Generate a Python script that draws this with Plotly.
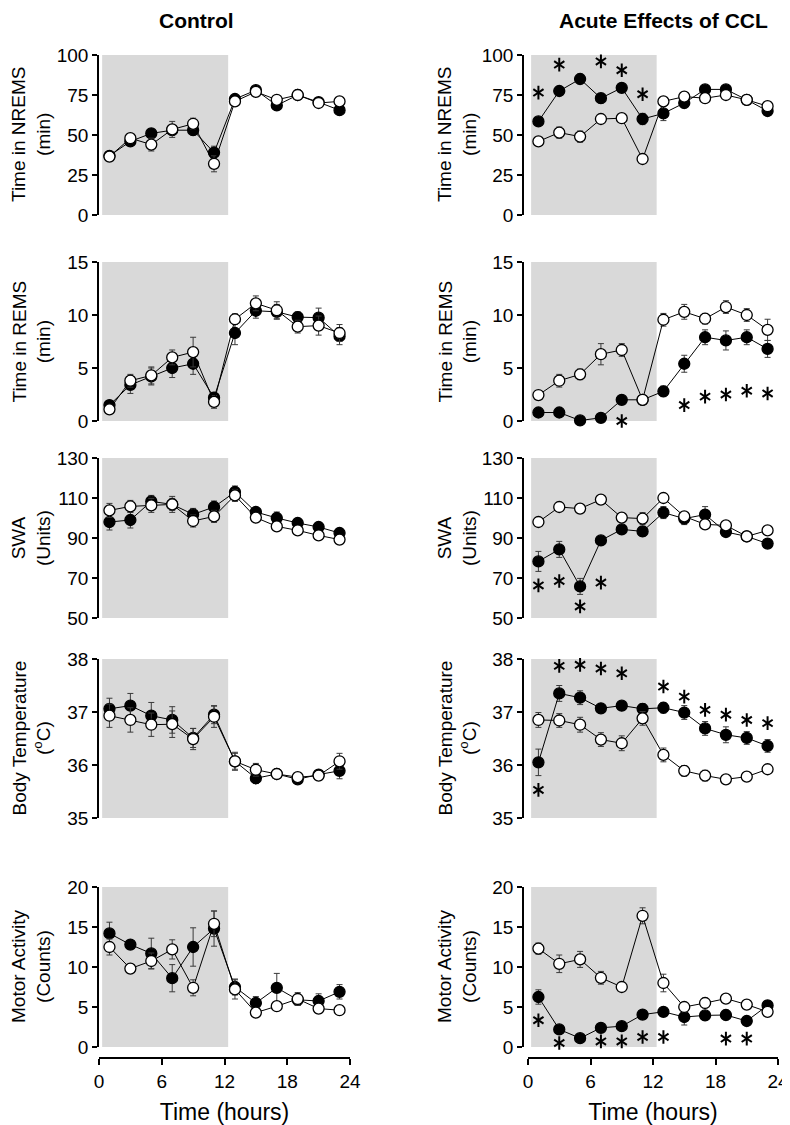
import plotly.graph_objects as go

## Data (mean and SEM per 2-h bin)
hours = [1, 3, 5, 7, 9, 11, 13, 15, 17, 19, 21, 23]
dark_phase = [0.3, 12.35]

# Time in NREMS (min)
ctrl_nrems_filled = [37, 46, 51, 53, 53, 39, 72.5, 78, 68.5, 75, 70.5, 65.5]
ctrl_nrems_filled_err = [2, 2.5, 3, 3, 3, 4, 2, 2, 2, 2, 2, 2]
ctrl_nrems_open = [36.5, 48, 44, 53.5, 57, 32, 71, 77, 72, 75, 70, 71]
ctrl_nrems_open_err = [2, 2.5, 4, 5, 3.5, 5, 2.5, 2, 2, 3, 2, 2]
ccl_nrems_filled = [58.5, 77.5, 85, 73, 79.5, 60, 63.5, 70, 78.5, 78.5, 72, 65]
ccl_nrems_filled_err = [2.5, 2.5, 3, 3, 2.5, 3.5, 4.5, 3, 2.5, 2.5, 2.5, 2.5]
ccl_nrems_open = [46, 51.5, 49, 60, 60.5, 35, 71, 74, 73, 75, 72, 68]
ccl_nrems_open_err = [2.5, 3.5, 3.5, 2.5, 2.5, 2.5, 2.5, 2, 2, 2, 2.5, 2.5]
ccl_nrems_sig_hours = [1, 3, 5, 7, 9, 11]
ccl_nrems_sig_y = [76.5, 94, 104.5, 96, 90.5, 75.5]

# Time in REMS (min)
ctrl_rems_filled = [1.5, 3.4, 4.2, 5.0, 5.4, 2.2, 8.3, 10.4, 10.3, 9.8, 9.75, 8.0]
ctrl_rems_filled_err = [0.3, 0.8, 0.8, 0.9, 1.0, 0.5, 1.1, 0.7, 0.7, 0.5, 0.9, 0.8]
ctrl_rems_open = [1.1, 3.8, 4.3, 6.0, 6.5, 1.8, 9.6, 11.1, 10.45, 8.9, 9.0, 8.3]
ctrl_rems_open_err = [0.3, 0.6, 0.8, 0.7, 1.4, 0.6, 0.5, 0.7, 0.8, 0.6, 0.9, 0.8]
ccl_rems_filled = [0.8, 0.8, 0.05, 0.3, 2.0, 2.0, 2.8, 5.4, 7.9, 7.6, 7.9, 6.8]
ccl_rems_filled_err = [0.2, 0.2, 0.2, 0.2, 0.3, 0.3, 0.5, 0.8, 0.7, 0.9, 0.7, 0.8]
ccl_rems_open = [2.45, 3.8, 4.4, 6.3, 6.7, 2.0, 9.55, 10.3, 9.65, 10.75, 10.0, 8.6]
ccl_rems_open_err = [0.3, 0.6, 0.5, 1.0, 0.6, 0.3, 0.6, 0.7, 0.5, 0.6, 0.6, 1.0]
ccl_rems_sig_hours = [1, 3, 5, 7, 9, 13, 15, 17, 19, 21, 23]
ccl_rems_sig_y = [-1.3, -1.3, -1.8, -1.4, 0, -0.2, 1.5, 2.3, 2.5, 2.85, 2.6]

# SWA (Units)
ctrl_swa_filled = [98, 99, 108.3, 106.8, 101.8, 105.5, 113, 103, 100, 97.5, 95.5, 92.5]
ctrl_swa_filled_err = [4, 4, 3, 3, 3, 3, 3, 2, 3, 2, 2, 2]
ctrl_swa_open = [103.8, 105.8, 106.3, 106.8, 98.5, 100.8, 111.3, 100.2, 95.8, 93.8, 91.3, 89.2]
ctrl_swa_open_err = [3.5, 3, 3.5, 4, 3, 3, 3, 2, 2, 2, 2, 2]
ccl_swa_filled = [78.3, 84.3, 65.8, 88.8, 94.3, 93.3, 102.7, 99.7, 101.7, 93, 90.8, 87.2]
ccl_swa_filled_err = [5, 4, 4, 1.5, 2, 2.5, 3, 3, 4, 2, 1.5, 1.5]
ccl_swa_open = [98, 105.5, 104.7, 109.2, 100.2, 99.7, 110, 100.8, 96.8, 96.3, 90.8, 93.8]
ccl_swa_open_err = [1.5, 1.5, 1.5, 1.5, 2, 3, 2, 2, 2, 2, 1.5, 1.5]
ccl_swa_sig_hours = [1, 3, 5, 7]
ccl_swa_sig_y = [66.3, 68.5, 55.8, 67.7]

# Body temperature (deg C)
ctrl_temp_filled = [37.06, 37.12, 36.93, 36.85, 36.51, 36.95, 36.07, 35.75, 35.83, 35.73, 35.82, 35.89]
ctrl_temp_filled_err = [0.2, 0.23, 0.25, 0.25, 0.18, 0.17, 0.15, 0.1, 0.07, 0.06, 0.07, 0.15]
ctrl_temp_open = [36.93, 36.85, 36.76, 36.77, 36.49, 36.91, 36.07, 35.91, 35.83, 35.77, 35.8, 36.07]
ctrl_temp_open_err = [0.22, 0.23, 0.22, 0.25, 0.2, 0.2, 0.17, 0.12, 0.08, 0.06, 0.08, 0.15]
ccl_temp_filled = [36.05, 37.35, 37.27, 37.07, 37.12, 37.06, 37.08, 36.99, 36.69, 36.57, 36.51, 36.36]
ccl_temp_filled_err = [0.25, 0.15, 0.13, 0.08, 0.08, 0.1, 0.1, 0.13, 0.13, 0.15, 0.12, 0.12]
ccl_temp_open = [36.85, 36.84, 36.76, 36.48, 36.41, 36.88, 36.19, 35.89, 35.8, 35.73, 35.78, 35.92]
ccl_temp_open_err = [0.14, 0.13, 0.14, 0.13, 0.14, 0.13, 0.13, 0.1, 0.1, 0.06, 0.06, 0.08]
ccl_temp_sig_hours = [1, 3, 5, 7, 9, 13, 15, 17, 19, 21, 23]
ccl_temp_sig_y = [35.53, 37.87, 37.89, 37.82, 37.73, 37.48, 37.29, 37.04, 36.95, 36.85, 36.79]

# Motor activity (counts)
ctrl_motor_filled = [14.2, 12.8, 11.7, 8.6, 12.5, 14.8, 7.5, 5.5, 7.4, 5.9, 5.75, 6.9]
ctrl_motor_filled_err = [1.4, 0.5, 1.9, 1.7, 2.4, 2.2, 1.0, 0.8, 1.8, 0.7, 0.9, 0.9]
ctrl_motor_open = [12.5, 9.8, 10.75, 12.2, 7.4, 15.4, 7.2, 4.3, 5.1, 6.0, 4.8, 4.6]
ctrl_motor_open_err = [1.0, 0.5, 1.0, 1.2, 1.0, 1.6, 1.2, 0.5, 0.5, 0.8, 0.6, 0.4]
ccl_motor_filled = [6.25, 2.2, 1.1, 2.4, 2.6, 4.05, 4.4, 3.75, 3.95, 4.0, 3.25, 5.2]
ccl_motor_filled_err = [0.9, 0.3, 0.3, 0.3, 0.3, 0.3, 0.3, 1.0, 0.5, 0.6, 0.3, 0.6]
ccl_motor_open = [12.3, 10.4, 10.95, 8.65, 7.5, 16.4, 8.0, 5.0, 5.5, 6.05, 5.3, 4.4]
ccl_motor_open_err = [0.7, 1.1, 1.0, 0.8, 0.3, 1.0, 1.1, 0.5, 0.6, 0.5, 0.4, 0.4]
ccl_motor_sig_hours = [1, 3, 5, 7, 9, 11, 13, 19, 21]
ccl_motor_sig_y = [3.35, 0.5, -0.6, 0.7, 0.7, 1.25, 1.25, 1.05, 1.05]

column_titles = ["Control", "Acute Effects of CCL"]
row_titles = ["Time in NREMS<br>(min)", "Time in REMS<br>(min)", "SWA<br>(Units)",
              "Body Temperature<br>(<sup>o</sup>C)", "Motor Activity<br>(Counts)"]
row_ticks = [[0, 25, 50, 75, 100], [0, 5, 10, 15], [50, 70, 90, 110, 130],
             [35, 36, 37, 38], [0, 5, 10, 15, 20]]
x_ticks = [0, 6, 12, 18, 24]

panels = [
    [(ctrl_nrems_filled, ctrl_nrems_filled_err, ctrl_nrems_open, ctrl_nrems_open_err, [], []),
     (ccl_nrems_filled, ccl_nrems_filled_err, ccl_nrems_open, ccl_nrems_open_err, ccl_nrems_sig_hours, ccl_nrems_sig_y)],
    [(ctrl_rems_filled, ctrl_rems_filled_err, ctrl_rems_open, ctrl_rems_open_err, [], []),
     (ccl_rems_filled, ccl_rems_filled_err, ccl_rems_open, ccl_rems_open_err, ccl_rems_sig_hours, ccl_rems_sig_y)],
    [(ctrl_swa_filled, ctrl_swa_filled_err, ctrl_swa_open, ctrl_swa_open_err, [], []),
     (ccl_swa_filled, ccl_swa_filled_err, ccl_swa_open, ccl_swa_open_err, ccl_swa_sig_hours, ccl_swa_sig_y)],
    [(ctrl_temp_filled, ctrl_temp_filled_err, ctrl_temp_open, ctrl_temp_open_err, [], []),
     (ccl_temp_filled, ccl_temp_filled_err, ccl_temp_open, ccl_temp_open_err, ccl_temp_sig_hours, ccl_temp_sig_y)],
    [(ctrl_motor_filled, ctrl_motor_filled_err, ctrl_motor_open, ctrl_motor_open_err, [], []),
     (ccl_motor_filled, ccl_motor_filled_err, ccl_motor_open, ccl_motor_open_err, ccl_motor_sig_hours, ccl_motor_sig_y)],
]

## Layout geometry, given as pixels of the 790 x 1125 window;
## the page body adds an 8 px margin, so the figure itself is 8 px smaller
PAGE_PAD = 8
W, H = 790 - PAGE_PAD, 1125 - PAGE_PAD
FONT = "Arial, Liberation Sans, sans-serif"
col_px = [(99, 350), (528, 778)]
yaxis_px = [98, 523]
ytitle_px = [31, 457]
title_px = [196, 663]
title_y_px = 21
row_px = [(55, 215), (262, 421), (458, 618), (659, 818), (887, 1047)]
xaxis_line_px = 1058


def px_x(p):
    return (p - PAGE_PAD) / W


def px_y(p):
    return 1 - (p - PAGE_PAD) / H


fig = go.Figure()
layout = dict(width=W, height=H,
              margin=dict(l=0, r=0, t=0, b=0, pad=0, autoexpand=False),
              plot_bgcolor="white", paper_bgcolor="white", showlegend=False,
              font=dict(family=FONT, size=19, color="black"))
shapes, annotations = [], []

for r in range(5):
    for c in range(2):
        k = r * 2 + c + 1
        xa = "x" if k == 1 else "x%d" % k
        ya = "y" if k == 1 else "y%d" % k
        filled, filled_err, opn, opn_err, sig_h, sig_y = panels[r][c]
        top, bot = row_px[r]
        ydom = [px_y(bot), px_y(top)]
        xdom = [px_x(col_px[c][0]), px_x(col_px[c][1])]
        ticks = row_ticks[r]

        for vals, errs, fillc in [(filled, filled_err, "black"), (opn, opn_err, "white")]:
            fig.add_trace(go.Scatter(
                x=hours, y=vals, xaxis=xa, yaxis=ya, mode="lines+markers",
                line=dict(color="black", width=1),
                marker=dict(size=11, color=fillc, line=dict(color="black", width=1.3)),
                error_y=dict(type="data", array=errs, color="#3a3a3a", thickness=1, width=3),
                cliponaxis=False))

        # significance asterisks: two opposed Y symbols give a six-armed star
        if sig_h:
            for sym in ["y-up-open", "y-down-open"]:
                fig.add_trace(go.Scatter(
                    x=sig_h, y=sig_y, xaxis=xa, yaxis=ya, mode="markers",
                    marker=dict(symbol=sym, size=8.5, color="black",
                                line=dict(color="black", width=2)),
                    cliponaxis=False, hoverinfo="skip"))

        xkey = "xaxis" if k == 1 else "xaxis%d" % k
        ykey = "yaxis" if k == 1 else "yaxis%d" % k
        if r < 4:
            layout[xkey] = dict(domain=xdom, range=[0, 24], anchor=ya, visible=False,
                                automargin=False)
        else:
            layout[xkey] = dict(domain=xdom, range=[0, 24], anchor="free",
                                position=px_y(xaxis_line_px), automargin=False,
                                showline=True, linecolor="black", linewidth=1.5,
                                ticks="outside", ticklen=6, tickwidth=1.5, tickcolor="black",
                                tickvals=x_ticks, showgrid=False, zeroline=False,
                                title=dict(text="Time (hours)", standoff=14))
        layout[ykey] = dict(domain=ydom, range=[ticks[0], ticks[-1]], anchor="free",
                            position=px_x(yaxis_px[c]), automargin=False,
                            showline=True, linecolor="black", linewidth=1.5,
                            ticks="outside", ticklen=5, tickwidth=1.5, tickcolor="black",
                            tickvals=ticks, showgrid=False, zeroline=False)

        # dark phase shading
        shapes.append(dict(type="rect", xref=xa, yref=ya + " domain",
                           x0=dark_phase[0], x1=dark_phase[1], y0=0, y1=1,
                           fillcolor="#d9d9d9", line=dict(width=0), layer="below"))

        # y axis title
        annotations.append(dict(x=px_x(ytitle_px[c]), y=px_y((top + bot) / 2),
                                xref="paper", yref="paper", text=row_titles[r],
                                textangle=-90, showarrow=False, xanchor="center",
                                yanchor="middle", font=dict(size=19, color="black")))

for c in range(2):
    annotations.append(dict(x=px_x(title_px[c]), y=px_y(title_y_px), xref="paper",
                            yref="paper", text="<b>%s</b>" % column_titles[c],
                            showarrow=False, xanchor="center", yanchor="middle",
                            font=dict(size=21, color="black")))

layout["shapes"] = shapes
layout["annotations"] = annotations
fig.update_layout(**layout)

fig.write_html("out.html")
